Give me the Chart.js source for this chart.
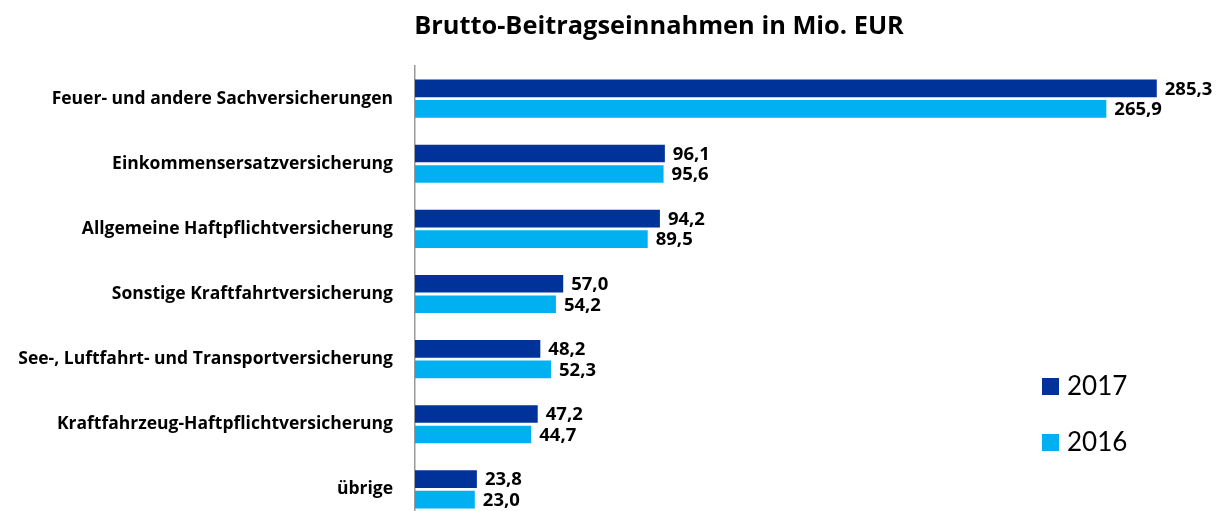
<!DOCTYPE html>
<html>
<head>
<meta charset="utf-8">
<script src="https://cdn.jsdelivr.net/npm/chart.js@4.4.1/dist/chart.umd.min.js"></script>
<style>
  html, body { margin: 0; padding: 0; background: #fff; overflow: hidden; }
  canvas { display: block; }
</style>
</head>
<body>
<canvas id="beitragChart" width="1220" height="522"></canvas>
<script>
const categories = [
  'Feuer- und andere Sachversicherungen',
  'Einkommensersatzversicherung',
  'Allgemeine Haftpflichtversicherung',
  'Sonstige Kraftfahrtversicherung',
  'See-, Luftfahrt- und Transportversicherung',
  'Kraftfahrzeug-Haftpflichtversicherung',
  'übrige'
];
const values2017 = [285.3, 96.1, 94.2, 57.0, 48.2, 47.2, 23.8];
const values2016 = [265.9, 95.6, 89.5, 54.2, 52.3, 44.7, 23.0];
const titleText = 'Brutto-Beitragseinnahmen in Mio. EUR';

const FONT = '"Open Sans", Lato, sans-serif';

// value labels next to each bar, german decimal comma
const valueLabels = {
  id: 'valueLabels',
  afterDatasetsDraw(chart) {
    const c = chart.ctx;
    c.save();
    c.font = 'bold 18.5px ' + FONT;
    c.fillStyle = '#000';
    c.textAlign = 'left';
    c.textBaseline = 'middle';
    chart.data.datasets.forEach((ds, i) => {
      chart.getDatasetMeta(i).data.forEach((bar, j) => {
        c.fillText(ds.data[j].toFixed(1).replace('.', ','), bar.x + 8, bar.y + 1);
      });
    });
    c.restore();
  }
};

// title + legend drawn by hand to sit where the original has them
const extras = {
  id: 'extras',
  afterDraw(chart) {
    const c = chart.ctx;
    c.save();
    c.fillStyle = '#000';
    c.font = 'bold 25.4px ' + FONT;
    c.textAlign = 'center';
    c.textBaseline = 'middle';
    c.fillText(titleText, 659, 27);

    c.font = '26px Lato, sans-serif';
    c.textAlign = 'left';
    const rows = [386, 442];
    chart.data.datasets.forEach((ds, i) => {
      c.fillStyle = ds.backgroundColor;
      c.fillRect(1042, rows[i] - 8, 17, 17);
      c.fillStyle = '#000';
      c.fillText(ds.label, 1067, rows[i] + 1);
    });
    c.restore();
  }
};

new Chart(document.getElementById('beitragChart'), {
  type: 'bar',
  data: {
    labels: categories,
    datasets: [
      { label: '2017', data: values2017, backgroundColor: '#003399' },
      { label: '2016', data: values2016, backgroundColor: '#00B0F0' }
    ]
  },
  options: {
    indexAxis: 'y',
    responsive: false,
    animation: false,
    categoryPercentage: 0.63,
    barPercentage: 0.86,
    layout: { padding: { top: 66, right: 25, left: 0, bottom: 0 } },
    plugins: {
      legend: { display: false },
      title: { display: false },
      tooltip: { enabled: false }
    },
    scales: {
      x: { display: false, min: 0, max: 300 },
      y: {
        afterFit(scale) {
          scale.width = 415;
          scale.paddingTop = 0;
          scale.paddingBottom = 0;
        },
        grid: { drawOnChartArea: false, drawTicks: false },
        border: { display: true, color: '#999', width: 1.5 },
        ticks: {
          padding: 22,
          color: '#000',
          font: { family: FONT, size: 17.5, weight: 'bold' }
        }
      }
    }
  },
  plugins: [valueLabels, extras]
});
</script>
</body>
</html>
